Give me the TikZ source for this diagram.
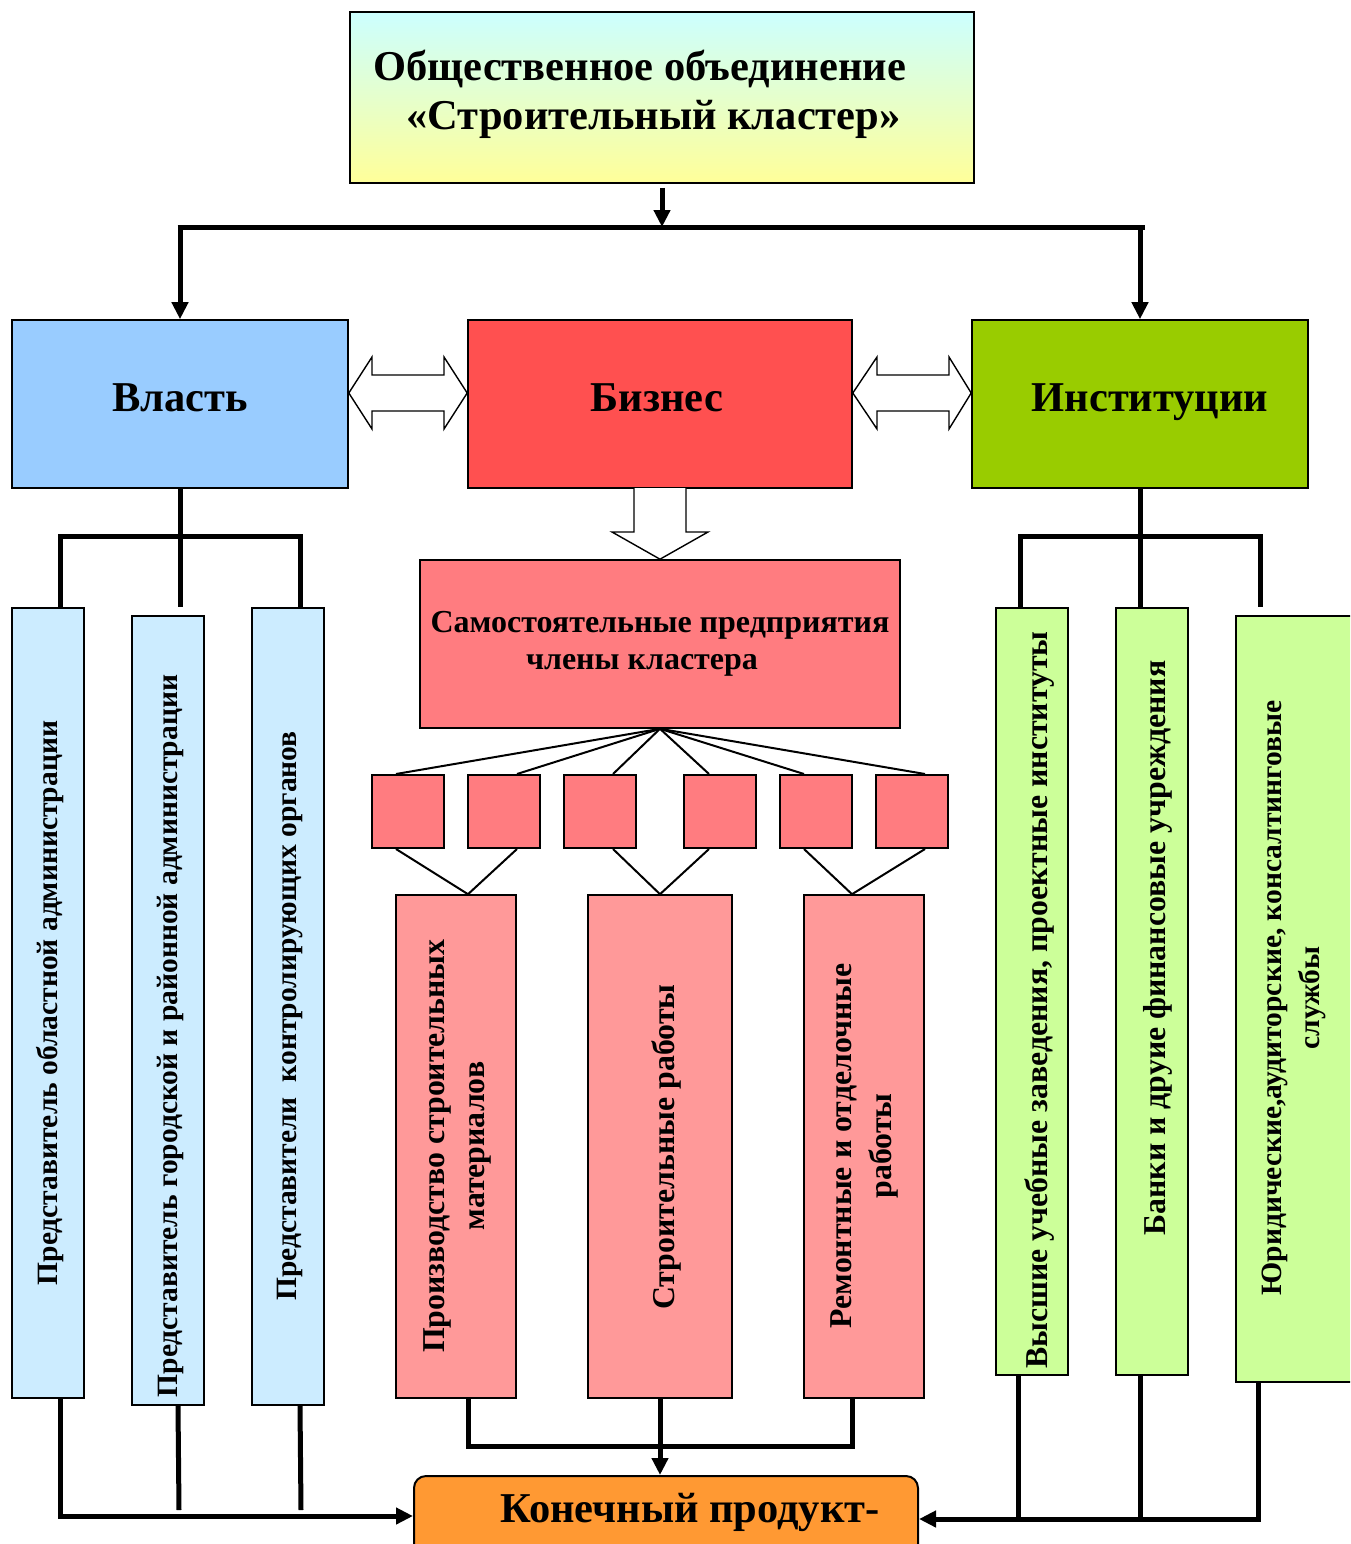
\documentclass[tikz,border=0pt]{standalone}
\usepackage{fontspec}
\setmainfont{Liberation Serif}
\usetikzlibrary{arrows.meta,calc}

\definecolor{topcyan}{HTML}{CCFFFF}
\definecolor{topyellow}{HTML}{FFFF99}
\definecolor{vlastblue}{HTML}{99CCFF}
\definecolor{bizred}{HTML}{FF5050}
\definecolor{instgreen}{HTML}{99CC00}
\definecolor{enterprise}{HTML}{FF7C80}
\definecolor{branchpink}{HTML}{FF9999}
\definecolor{paleblue}{HTML}{CCECFF}
\definecolor{palegreen}{HTML}{CCFF99}
\definecolor{prodorange}{HTML}{FF9933}

\tikzset{
  box/.style={draw, line width=1.6pt, inner sep=0pt},
  conn/.style={line width=5pt},
  arrowend/.style={-{Triangle[length=17pt,width=16pt]}},
  fan/.style={line width=2pt},
  blockarrow/.style={draw, fill=white, line width=1.4pt, line join=miter},
  bigtext/.style={font=\fontsize{42.5}{49}\selectfont\bfseries},
  midtext/.style={font=\fontsize{32}{37}\selectfont\bfseries, align=center},
  vtext/.style={rotate=90, font=\fontsize{29.5}{38}\selectfont\bfseries, align=center},
  vbigtext/.style={rotate=90, font=\fontsize{31.8}{40}\selectfont\bfseries, align=center},
}

\begin{document}
\begin{tikzpicture}[x=1pt,y=-1pt]
\useasboundingbox (0,0) rectangle (1350,1544);
\fill[white] (0,0) rectangle (1350,1544);
\clip (0,0) rectangle (1350,1544);

% top: the association
\node[box, top color=topcyan, bottom color=topyellow,
      minimum width=624pt, minimum height=171pt] (club) at (662,97.5) {};
\node[bigtext, anchor=west, align=left] (clubtext) at (370,94)
  {Общественное объединение\\\hspace*{33pt}«Строительный кластер»};

% three pillars
\node[box, fill=vlastblue, minimum width=336pt, minimum height=168pt] (vlast) at (180,404) {};
\node[bigtext] (vlasttext) at (180,398) {Власть};
\node[box, fill=bizred, minimum width=384pt, minimum height=168pt] (biz) at (660,404) {};
\node[bigtext] (biztext) at (657,398) {Бизнес};
\node[box, fill=instgreen, minimum width=336pt, minimum height=168pt] (inst) at (1140,404) {};
\node[bigtext, anchor=base] (insttext) at (1150,411) {Институции};

% distribution bus under the association
\coordinate (busmid) at (662,227);
\draw[conn] ($(vlast.north |- busmid)+(-2.5,0)$) -- ($(inst.north |- busmid)+(4.5,0)$);
\draw[conn, arrowend] ($(club.south)+(0,4)$) -- (busmid);
\draw[conn, arrowend] (vlast.north |- busmid) -- (vlast.north);
\draw[conn, arrowend] (inst.north |- busmid) -- (inst.north);

% two-way block arrows between pillars
\draw[blockarrow] (vlast.east |- 0,393) -- (372,357) -- (372,375) -- (444,375) -- (444,357)
  -- (biz.west |- 0,393) -- (444,429) -- (444,411) -- (372,411) -- (372,429) -- cycle;
\draw[blockarrow] (biz.east |- 0,393) -- (877,357) -- (877,375) -- (949,375) -- (949,357)
  -- (inst.west |- 0,393) -- (949,429) -- (949,411) -- (877,411) -- (877,429) -- cycle;

% enterprises
\node[box, fill=enterprise, minimum width=480pt, minimum height=168pt] (sam) at (660,644) {};
\node[midtext] (samtext) at (660,644)
  {Самостоятельные предприятия\\члены кластера\hspace*{36pt}};

% block arrow from business down to the enterprises
\draw[blockarrow] (634,488) -- (634,532) -- (612,532) -- (sam.north) -- (708,532) -- (686,532) -- (686,488);

% member firms
\foreach \i/\cx in {1/408,2/504,3/600,4/720,5/816,6/912}
  \node[box, line width=2pt, fill=enterprise, minimum width=72pt, minimum height=73pt] (s\i) at (\cx,811.5) {};

\draw[fan] (sam.south) -- ($(s1.north)+(-12,0)$);
\draw[fan] (sam.south) -- ($(s2.north)+(13,0)$);
\draw[fan] (sam.south) -- ($(s3.north)+(13,0)$);
\draw[fan] (sam.south) -- ($(s4.north)+(-11,0)$);
\draw[fan] (sam.south) -- ($(s5.north)+(-12,0)$);
\draw[fan] (sam.south) -- ($(s6.north)+(13,0)$);

% branches of activity
\node[box, fill=branchpink, minimum width=120pt, minimum height=503pt] (b1) at (456,1146.5) {};
\node[box, fill=branchpink, minimum width=144pt, minimum height=503pt] (b2) at (660,1146.5) {};
\node[box, fill=branchpink, minimum width=120pt, minimum height=503pt] (b3) at (864,1146.5) {};
\node[vbigtext] (b1text) at (457,1146) {Производство строительных\\материалов};
\node[vbigtext] (b2text) at (666,1147) {Строительные работы};
\node[vbigtext] (b3text) at (864,1146) {Ремонтные и отделочные\\работы};

\draw[fan] ($(s1.south)+(-12,0)$) -- ($(b1.north)+(12,0)$) -- ($(s2.south)+(13,0)$);
\draw[fan] ($(s3.south)+(13,0)$) -- (b2.north) -- ($(s4.south)+(-11,0)$);
\draw[fan] ($(s5.south)+(-12,0)$) -- ($(b3.north)+(-12,0)$) -- ($(s6.south)+(13,0)$);

% final product
\node[draw, line width=2pt, fill=prodorange, rounded corners=12pt,
      minimum width=504pt, minimum height=80pt] (prod) at (666,1516) {};
\node[bigtext] (prodtext) at (690,1512) {Конечный продукт-};

% authority representatives
\node[box, fill=paleblue, minimum width=72pt, minimum height=790pt] (v1) at (48,1003) {};
\node[box, fill=paleblue, minimum width=72pt, minimum height=789pt] (v2) at (168,1010.5) {};
\node[box, fill=paleblue, minimum width=72pt, minimum height=797pt] (v3) at (288,1006.5) {};
\node[vtext] (v1text) at (50,1003) {Представитель областной администрации};
\node[vtext] (v2text) at (170,1036) {Представитель городской и районной администрации};
\node[vtext] (v3text) at (290,1016) {Представители~ контролирующих органов};

\coordinate (vbus) at (180,536);
\draw[conn] (vlast.south) -- ($(v2.north)+(12,-8)$);
\draw[conn] ($(v1.north)+(12,0)$) |- (vbus) -| ($(v3.north)+(12,0)$);

% institutions
\node[box, fill=palegreen, minimum width=72pt, minimum height=767pt] (g1) at (1032,991.5) {};
\node[box, fill=palegreen, minimum width=72pt, minimum height=767pt] (g2) at (1152,991.5) {};
\node[box, fill=palegreen, minimum width=116pt, minimum height=766pt] (g3) at (1294,999) {};
\node[vbigtext] (g1text) at (1040,1000) {Высшие учебные заведения, проектные институты};
\node[vbigtext] (g2text) at (1158,948) {Банки и друие финансовые учреждения};
\node[vtext] (g3text) at (1294,998) {Юридические,аудиторские, консалтинговые\\службы};

\coordinate (gbus) at (1140,536);
\draw[conn] (inst.south) -- (inst.south |- g2.north);
\draw[conn] ($(g1.north)+(-12,0)$) |- (gbus) -| ($(g3.north)+(-34,-8)$);

% flows into the final product
\coordinate (v1foot) at ($(v1.south)+(12,0)$);
\coordinate (v2foot) at ($(v2.south)+(10,0)$);
\coordinate (v3foot) at ($(v3.south)+(12,0)$);
\draw[conn, arrowend] (v1foot) |- (prod.west);
\draw[conn] (v2foot) -- ($(v2foot |- prod.west)+(1,-6)$);
\draw[conn] (v3foot) -- ($(v3foot |- prod.west)+(1,-6)$);

\coordinate (b1foot) at ($(b1.south)+(12,0)$);
\coordinate (b3foot) at ($(b3.south)+(-12,0)$);
\coordinate (bjoin) at (660,1446);
\draw[conn] (b1foot) |- (bjoin) -| (b3foot);
\draw[conn, arrowend] (b2.south) -- (b2.south |- prod.north);

\coordinate (g1foot) at ($(g1.south)+(-14,0)$);
\coordinate (g2foot) at ($(g2.south)+(-12,0)$);
\coordinate (g3foot) at ($(g3.south)+(-36,0)$);
\coordinate (gjoin) at ($(prod.east)+(0,3)$);
\draw[conn, arrowend] (g3foot) |- (gjoin);
\draw[conn] (g1foot) -- (g1foot |- gjoin);
\draw[conn] (g2foot) -- (g2foot |- gjoin);
\end{tikzpicture}
\end{document}
